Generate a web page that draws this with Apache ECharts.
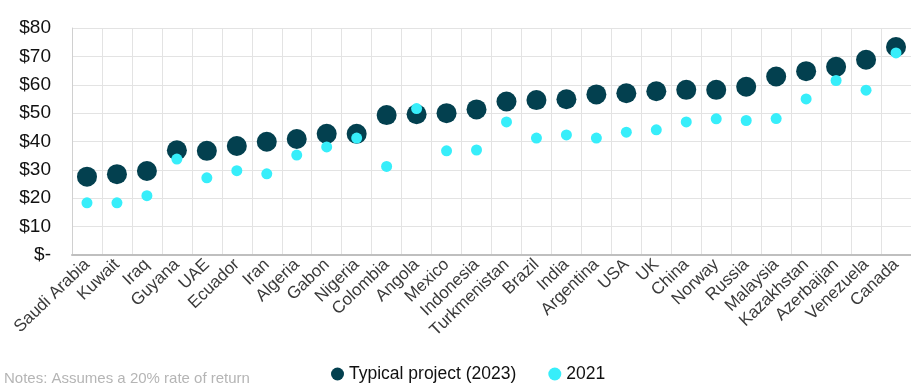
<!DOCTYPE html>
<html>
<head>
<meta charset="utf-8">
<script src="https://cdn.jsdelivr.net/npm/echarts@6/dist/echarts.min.js"></script>
<style>
  html, body { margin: 0; padding: 0; background: #fff; }
  #chart { width: 911px; height: 383px; }
</style>
</head>
<body>
<div id="chart"></div>
<script>
// breakeven oil price by country, $/bbl
const countries = ['Saudi Arabia', 'Kuwait', 'Iraq', 'Guyana', 'UAE', 'Ecuador', 'Iran', 'Algeria', 'Gabon', 'Nigeria',
  'Colombia', 'Angola', 'Mexico', 'Indonesia', 'Turkmenistan', 'Brazil', 'India', 'Argentina', 'USA', 'UK',
  'China', 'Norway', 'Russia', 'Malaysia', 'Kazakhstan', 'Azerbaijan', 'Venezuela', 'Canada'];
const typical2023 = [27.6, 28.5, 29.6, 36.9, 36.7, 38.4, 39.9, 40.9, 42.7, 42.7,
  49.3, 49.6, 50.0, 51.3, 54.1, 54.6, 54.9, 56.6, 57.0, 57.7,
  58.2, 58.2, 59.3, 62.9, 64.8, 66.3, 68.8, 73.3];
const values2021 = [18.4, 18.4, 20.9, 33.8, 27.2, 29.7, 28.6, 35.2, 38.1, 41.2,
  31.2, 51.6, 36.7, 37.0, 46.9, 41.2, 42.3, 41.2, 43.3, 44.1,
  46.9, 48.0, 47.4, 48.1, 55.0, 61.5, 58.1, 71.2];

const chart = echarts.init(document.getElementById('chart'));
const font = 'Liberation Sans, Arial, sans-serif';

chart.setOption({
  animation: false,
  grid: { left: 72, top: 28, width: 848, height: 227 },
  xAxis: {
    type: 'category',
    data: countries,
    boundaryGap: true,
    axisTick: { show: false },
    axisLine: { lineStyle: { color: '#bfbfbf', width: 2 } },
    splitLine: { show: true, interval: 0, lineStyle: { color: '#e3e3e3' } },
    axisLabel: { interval: 0, rotate: 44, margin: 7, color: '#3a3a3a', fontSize: 17, fontFamily: font }
  },
  yAxis: {
    type: 'value',
    min: 0, max: 80, interval: 10,
    axisLine: { show: true, lineStyle: { color: '#d0d0d0' } },
    splitLine: { lineStyle: { color: '#e3e3e3' } },
    axisLabel: {
      color: '#111', fontSize: 19, fontFamily: font, margin: 21,
      formatter: v => v === 0 ? '$-' : '$' + v
    }
  },
  legend: {
    bottom: -5, left: 326,
    itemGap: 32, itemWidth: 13, itemHeight: 13,
    textStyle: { color: '#111', fontSize: 17.5, fontFamily: font },
    data: [{ name: 'Typical project (2023)', icon: 'circle' }, { name: '2021', icon: 'circle' }]
  },
  graphic: [{
    type: 'text', left: 4, top: 371,
    style: { text: 'Notes: Assumes a 20% rate of return', fill: '#b5b5b5', font: '15px ' + font }
  }],
  series: [
    {
      name: 'Typical project (2023)', type: 'scatter', data: typical2023,
      symbolSize: 20, itemStyle: { color: '#03404f', opacity: 1 }, z: 2
    },
    {
      name: '2021', type: 'scatter', data: values2021,
      symbolSize: 11, itemStyle: { color: '#37eefa', opacity: 1 }, z: 3
    }
  ]
});
</script>
</body>
</html>
